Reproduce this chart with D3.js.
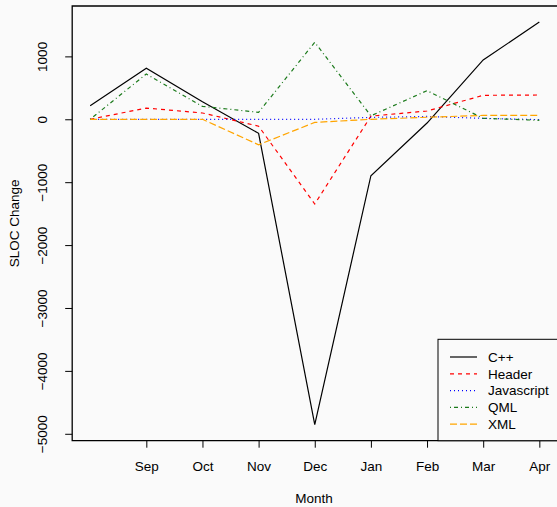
<!DOCTYPE html>
<html>
<head>
<meta charset="utf-8">
<script src="https://cdn.jsdelivr.net/npm/d3@7"></script>
<style>
  body { margin: 0; background: #fafafa; }
  svg { display: block; font-family: "Liberation Sans", Arial, sans-serif; }
</style>
</head>
<body>
<script>
// months (Aug has no tick label in the original)
var months = ["Aug", "Sep", "Oct", "Nov", "Dec", "Jan", "Feb", "Mar", "Apr"];
var tickMonths = ["Sep", "Oct", "Nov", "Dec", "Jan", "Feb", "Mar", "Apr"];

var cpp        = [216, 810, 280, -223, -4854, -897, -60, 943, 1545];
var header     = [0, 178, 100, -110, -1347, 50, 132, 381, 386];
var javascript = [0, 0, 0, 0, 0, 30, 45, 15, -5];
var qml        = [0, 720, 205, 111, 1224, 55, 455, 15, -16];
var xml        = [0, 0, 0, -405, -50, 0, 32, 62, 62];

var yTicks = [1000, 0, -1000, -2000, -3000, -4000, -5000];

var series = [
    {name: "C++",        values: cpp,        color: "black",   dash: null},
    {name: "Header",     values: header,     color: "red",     dash: "4,4"},
    {name: "Javascript", values: javascript, color: "blue",    dash: "1,3"},
    {name: "QML",        values: qml,        color: "#1b7a1b", dash: "1,3,4,3"},
    {name: "XML",        values: xml,        color: "orange",  dash: "7,3"}
];

var W = 557, H = 507;
var svg = d3.select("body").append("svg")
            .attr("width", W)
            .attr("height", H);

// R style 4% padding on both axes
var all = [].concat(cpp, header, javascript, qml, xml);
var ymin = d3.min(all), ymax = d3.max(all), yr = ymax - ymin;
var n = months.length;

var x = d3.scaleLinear()
          .domain([-0.32, n - 1 + 0.32])
          .range([72.2, 557.3]);
var y = d3.scaleLinear()
          .domain([ymin - 0.04 * yr, ymax + 0.04 * yr])
          .range([440.7, 6]);

// plot box (right side falls off the page)
svg.append("path")
   .attr("d", "M" + x.range()[1] + "," + y.range()[1] +
              "H" + x.range()[0] + "V" + y.range()[0] + "H" + x.range()[1])
   .attr("fill", "none")
   .attr("stroke", "black")
   .attr("stroke-width", 1.3);

// y axis
var yAxis = svg.append("g").attr("transform", "translate(" + x.range()[0] + ",0)")
               .call(d3.axisLeft(y).tickValues(yTicks).tickSize(7).tickFormat(function(d){ return d < 0 ? "\u2212" + (-d) : d; }));
yAxis.select(".domain").remove();
yAxis.selectAll("line").attr("stroke", "black");
yAxis.selectAll("text")
     .attr("transform", "rotate(-90)")
     .attr("x", 0)
     .attr("y", -25)
     .attr("dy", 0)
     .attr("text-anchor", "middle")
     .style("font-size", "13.5px")
     .attr("fill", "black");

// x axis
var xAxis = svg.append("g").attr("transform", "translate(0," + y.range()[0] + ")")
               .call(d3.axisBottom(x)
                       .tickValues(tickMonths.map(function(m){ return months.indexOf(m); }))
                       .tickSize(7)
                       .tickFormat(function(i){ return months[i]; }));
xAxis.select(".domain").remove();
xAxis.selectAll("line").attr("stroke", "black");
xAxis.selectAll("text")
     .attr("y", 26)
     .attr("dy", "0.35em")
     .style("font-size", "13.5px")
     .attr("fill", "black");

// axis titles
svg.append("text")
   .attr("x", 314).attr("y", 498).attr("dy", "0.35em")
   .attr("text-anchor", "middle")
   .style("font-size", "13.5px")
   .text("Month");
svg.append("text")
   .attr("transform", "translate(14," + (y.range()[0] + y.range()[1]) / 2 + ") rotate(-90)")
   .attr("dy", "0.35em")
   .attr("text-anchor", "middle")
   .style("font-size", "13.5px")
   .text("SLOC Change");

// lines
var line = d3.line()
             .x(function(d, i){ return x(i); })
             .y(function(d){ return y(d); });

svg.selectAll(".series")
   .data(series)
   .enter()
   .append("path")
   .attr("class", "series")
   .attr("d", function(d){ return line(d.values); })
   .attr("fill", "none")
   .attr("stroke", function(d){ return d.color; })
   .attr("stroke-width", 1.2)
   .attr("stroke-dasharray", function(d){ return d.dash; });

// legend
var legend = svg.append("g");
legend.append("rect")
      .attr("x", 438).attr("y", 339.3)
      .attr("width", 130).attr("height", 101.4)
      .attr("fill", "#fafafa")
      .attr("stroke", "black")
      .attr("stroke-width", 1);

var items = legend.selectAll(".item")
                  .data(series)
                  .enter()
                  .append("g")
                  .attr("transform", function(d, i){ return "translate(0," + (357 + i * 16.8) + ")"; });
items.append("line")
     .attr("x1", 450).attr("x2", 477)
     .attr("stroke", function(d){ return d.color; })
     .attr("stroke-width", 1.2)
     .attr("stroke-dasharray", function(d){ return d.dash; });
items.append("text")
     .attr("x", 488)
     .attr("dy", "0.35em")
     .style("font-size", "13.5px")
     .text(function(d){ return d.name; });
</script>
</body>
</html>
